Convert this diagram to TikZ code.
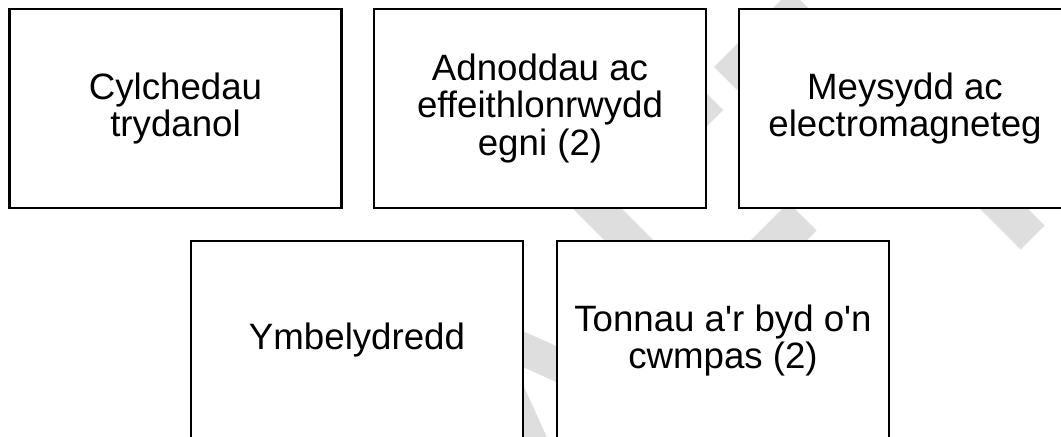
\documentclass[tikz,border=0pt]{standalone}
\usepackage{fontspec}
\setmainfont{Liberation Sans}
\definecolor{wm}{HTML}{DEDEDE}
\begin{document}
\begin{tikzpicture}[x=0.75pt,y=-0.75pt,
  box/.style={draw=black,line width=1.7pt,fill=white,minimum width=249pt,minimum height=149.25pt,inner sep=0pt},
  txt/.style={align=center,font=\fontsize{27.5pt}{28pt}\selectfont,inner sep=0pt},
  wmark/.style={fill=wm,draw=none}]
\useasboundingbox (0,0) rectangle (1061,436);
\clip (0,0) rectangle (1061,436);
\fill[white] (0,0) rectangle (1061,436);
% watermark pieces
\fill[wmark] (714,67) -- (738.5,91.5) -- (815,15) -- (790.5,-9.5) -- cycle;
\fill[wmark] (698,85) -- (723,110) -- (650,183) -- (650,133) -- cycle;
\fill[wmark] (788.5,202.5) -- (816.5,230.5) -- (747,300) -- (691,300) -- cycle;
\fill[wmark] (921,150) -- (969,150) -- (1044.5,225.5) -- (1020.5,249.5) -- cycle;
\fill[wmark] (514,150) -- (563,150) -- (713,300) -- (664,300) -- cycle;
\fill[wmark] (480,311.75) -- (600,365.75) -- (600,401.75) -- (480,347.75) -- cycle;
\fill[wmark] (467.7,340) -- (502.7,340) -- (557.3,460) -- (522.3,460) -- cycle;
% boxes
\node[box] (b1) at (175.5,108.5) {};
\node[box] (b2) at (540,108.5) {};
\node[box] (b3) at (905,108.5) {};
\node[box] (b4) at (357,340.5) {};
\node[box] (b5) at (723,340.5) {};
% texts
\node[txt] (t1) at (b1.center) {Cylchedau\\trydanol};
\node[txt] (t2) at (b2.center) {Adnoddau ac\\effeithlonrwydd\\egni (2)};
\node[txt] (t3) at (b3.center) {Meysydd ac\\electromagneteg};
\node[txt] (t4) at (b4.center) {Ymbelydredd};
\node[txt] (t5) at (b5.center) {Tonnau a\textquotesingle r byd o\textquotesingle n\\cwmpas (2)};
\end{tikzpicture}
\end{document}
